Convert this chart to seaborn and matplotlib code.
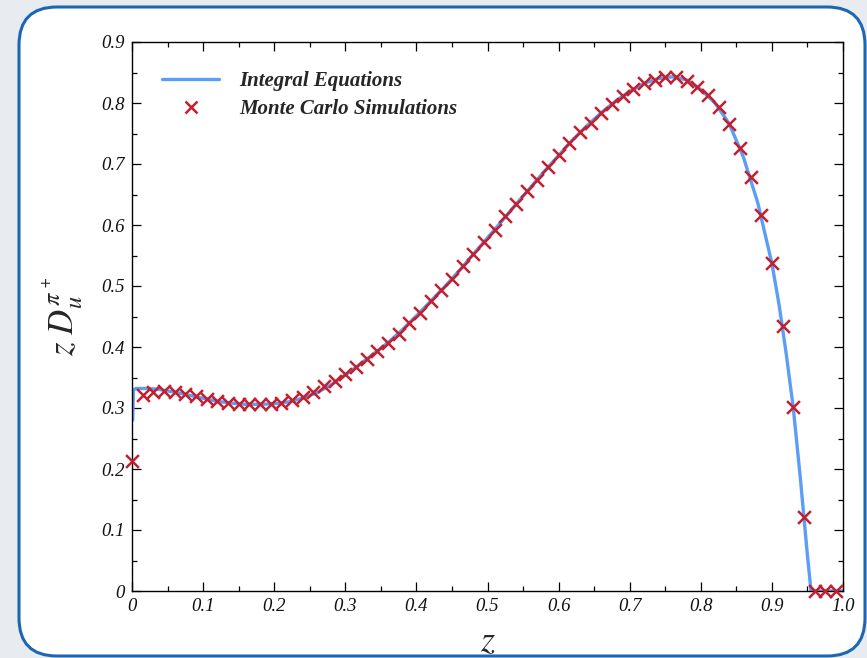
import matplotlib
matplotlib.use("Agg")
import matplotlib.pyplot as plt
import seaborn as sns
import pandas as pd
from matplotlib.patches import FancyBboxPatch
from matplotlib.lines import Line2D
from matplotlib.ticker import MultipleLocator, FixedLocator, FixedFormatter

# ---------------- data ----------------
mc_z = [0.0, 0.015, 0.03, 0.045, 0.06, 0.075, 0.09, 0.105, 0.12, 0.135,
        0.15, 0.165, 0.18, 0.195, 0.21, 0.225, 0.24, 0.255, 0.27, 0.285,
        0.30, 0.315, 0.33, 0.345, 0.36, 0.375, 0.39, 0.405, 0.42, 0.435,
        0.45, 0.465, 0.48, 0.495, 0.51, 0.525, 0.54, 0.555, 0.57, 0.585,
        0.60, 0.615, 0.63, 0.645, 0.66, 0.675, 0.69, 0.705, 0.72, 0.735,
        0.75, 0.765, 0.78, 0.795, 0.81, 0.825, 0.84, 0.855, 0.87, 0.885,
        0.90, 0.915, 0.93, 0.945, 0.96, 0.975, 0.99]
mc_d = [0.213, 0.322, 0.326, 0.328, 0.326, 0.323, 0.319, 0.315, 0.311, 0.309,
        0.307, 0.306, 0.306, 0.307, 0.309, 0.313, 0.318, 0.326, 0.336, 0.345,
        0.355, 0.367, 0.380, 0.393, 0.407, 0.422, 0.439, 0.456, 0.475, 0.493,
        0.511, 0.532, 0.552, 0.572, 0.592, 0.614, 0.634, 0.655, 0.673, 0.695,
        0.714, 0.734, 0.752, 0.768, 0.784, 0.799, 0.812, 0.823, 0.832, 0.838,
        0.842, 0.842, 0.836, 0.826, 0.813, 0.793, 0.766, 0.727, 0.678, 0.616,
        0.537, 0.435, 0.301, 0.121, 0.0, 0.0, 0.0]

ie_z = [0.001, 0.002, 0.006, 0.02, 0.035, 0.05, 0.065, 0.08, 0.10, 0.12,
        0.14, 0.16, 0.18, 0.20, 0.22, 0.24, 0.26, 0.28, 0.30, 0.32,
        0.34, 0.36, 0.38, 0.40, 0.42, 0.44, 0.46, 0.48, 0.50, 0.52,
        0.54, 0.56, 0.58, 0.60, 0.62, 0.64, 0.66, 0.68, 0.70, 0.72,
        0.74, 0.76, 0.78, 0.80, 0.82, 0.84, 0.86, 0.88, 0.90, 0.91,
        0.92, 0.93, 0.94, 0.95, 0.955, 0.97, 1.0]
ie_d = [0.280, 0.330, 0.332, 0.332, 0.331, 0.328, 0.325, 0.321, 0.316, 0.311,
        0.308, 0.306, 0.306, 0.307, 0.310, 0.316, 0.325, 0.338, 0.354, 0.371,
        0.389, 0.407, 0.428, 0.451, 0.475, 0.499, 0.525, 0.552, 0.579, 0.606,
        0.634, 0.661, 0.688, 0.714, 0.740, 0.763, 0.784, 0.803, 0.819, 0.832,
        0.840, 0.843, 0.838, 0.822, 0.800, 0.766, 0.711, 0.637, 0.537, 0.470,
        0.390, 0.301, 0.185, 0.058, 0.0, 0.0, 0.0]

x_ticks = [0.0, 0.1, 0.2, 0.3, 0.4, 0.5, 0.6, 0.7, 0.8, 0.9, 1.0]
x_labels = ["0", "0.1", "0.2", "0.3", "0.4", "0.5", "0.6", "0.7", "0.8", "0.9", "1.0"]
y_ticks = [0.0, 0.1, 0.2, 0.3, 0.4, 0.5, 0.6, 0.7, 0.8, 0.9]
y_labels = ["0", "0.1", "0.2", "0.3", "0.4", "0.5", "0.6", "0.7", "0.8", "0.9"]

series_names = ["Integral Equations", "Monte Carlo Simulations"]

# ---------------- style ----------------
sns.set_style("white")
plt.rcParams["font.family"] = ["Liberation Serif", "DejaVu Serif"]
plt.rcParams["font.style"] = "italic"
plt.rcParams["mathtext.fontset"] = "stix"

LINE_COLOR = "#5b9ef7"
MARK_COLOR = "#c0202f"

W, H = 867, 658
fig = plt.figure(figsize=(W / 100, H / 100), dpi=100)
fig.patch.set_facecolor("#e8ebef")

# rounded white panel with blue border (display pixel coords)
panel = FancyBboxPatch((19, 2), 846, 649,
                       boxstyle="round,pad=0,rounding_size=38",
                       transform=None, facecolor="white",
                       edgecolor="#1b67b4", linewidth=2.2, zorder=-5)
fig.patches.append(panel)

ax = fig.add_axes([132 / W, 1 - 591 / H, 711 / W, 549 / H])
ax.set_zorder(2)
ax.set_facecolor("none")

curve = pd.DataFrame({"z": ie_z, "D": ie_d})
points = pd.DataFrame({"z": mc_z, "D": mc_d})

sns.lineplot(data=curve, x="z", y="D", ax=ax, color=LINE_COLOR,
             linewidth=2.4, sort=False, zorder=2)
sns.scatterplot(data=points, x="z", y="D", ax=ax, marker="x",
                color=MARK_COLOR, s=85, linewidth=1.8, zorder=3,
                clip_on=False)

ax.set_xlim(0, 1.0)
ax.set_ylim(0, 0.9)

ax.xaxis.set_major_locator(FixedLocator(x_ticks))
ax.xaxis.set_major_formatter(FixedFormatter(x_labels))
ax.xaxis.set_minor_locator(MultipleLocator(0.05))
ax.yaxis.set_major_locator(FixedLocator(y_ticks))
ax.yaxis.set_major_formatter(FixedFormatter(y_labels))
ax.yaxis.set_minor_locator(MultipleLocator(0.05))

ax.tick_params(which="both", direction="in", top=True, right=True,
               bottom=True, left=True, color="black", width=0.9,
               labelsize=13.5, labelcolor="#111111")
ax.tick_params(which="major", length=6.5)
ax.tick_params(which="minor", length=3.5)
ax.tick_params(axis="x", which="major", pad=5)
ax.tick_params(axis="y", which="major", pad=5)

for sp in ax.spines.values():
    sp.set_color("black")
    sp.set_linewidth(1.0)
    sp.set_visible(True)

ax.set_xlabel(r"$z$", fontsize=26)
ax.xaxis.set_label_coords(0.5, -0.064)
ax.set_ylabel(r"$z\ D_u^{\pi^+}$", fontsize=25)
ax.yaxis.set_label_coords(-0.066, 0.5)

handles = [Line2D([], [], color=LINE_COLOR, linewidth=2.4),
           Line2D([], [], color=MARK_COLOR, marker="x", linestyle="none",
                  markersize=9.2, markeredgewidth=1.8)]
leg = ax.legend(handles, series_names, loc="upper left",
                bbox_to_anchor=(0.042, 0.947), frameon=False,
                borderaxespad=0, borderpad=0, handlelength=2.75,
                handletextpad=0.95, labelspacing=0.4,
                prop={"family": "Liberation Serif", "style": "italic",
                      "weight": "bold", "size": 15})

fig.savefig("out.png", dpi=100, facecolor=fig.get_facecolor())
